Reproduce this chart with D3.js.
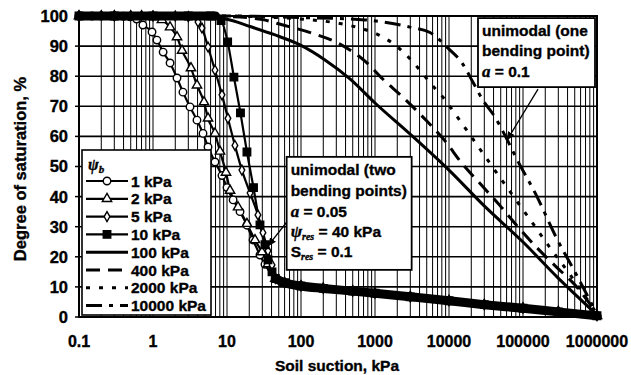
<!DOCTYPE html>
<html>
<head>
<meta charset="utf-8">
<script src="https://cdn.jsdelivr.net/npm/d3@7"></script>
<style>
  body { margin: 0; background: #fff; }
  svg { display: block; font-family: "Liberation Sans", Arial, sans-serif; font-weight: bold; }
  text { stroke: #000; stroke-width: 0.35px; }
  .serif { font-family: "Liberation Serif", "Times New Roman", serif; font-style: italic; }
</style>
</head>
<body>
<svg id="chart" width="631" height="375"></svg>
<script>
// x tick labels (soil suction, kPa) and y ticks (degree of saturation, %)
const xTickLabels = ["0.1", "1", "10", "100", "1000", "10000", "100000", "1000000"];
const yTicks = [0, 10, 20, 30, 40, 50, 60, 70, 80, 90, 100];

// bimodal curves (two bending points), [suction kPa, saturation %]
const psi1 = [[0.1,100],[0.15,100],[0.2,100],[0.3,100],[0.4,99.9],[0.49,99.7],[0.6,99],[0.73,97],[0.97,94.7],[1.13,92],[1.37,88],[1.7,84.4],[2.11,79.4],[2.54,74.7],[3.16,69.8],[3.93,65.4],[4.74,61],[5.54,56.5],[6.88,51.5],[8.55,47],[10,43],[12.1,38.9],[15,35],[18.6,30.5],[22.5,25.6],[27.9,20.6],[32.6,17.5]];
const psi2 = [[0.1,100],[0.2,100],[0.3,100],[0.5,100],[0.7,100],[1,99.8],[1.32,98.7],[1.7,96.3],[2.11,93],[2.47,88.5],[3.26,82.7],[3.93,77],[4.89,71.4],[5.54,66],[6.88,61],[8.04,55],[9.69,48],[11,42],[14.1,36.5],[18.6,31],[23.9,25.6],[29.7,21.6],[35.8,17.6]];
const psi5 = [[0.1,100],[0.3,100],[1,100],[2,100],[3,99.8],[4.06,98],[4.59,96],[5.54,89.7],[6.88,82],[8.55,73.8],[10.3,66],[12.8,57],[15.9,48.8],[20.5,41.2],[26.2,33.9],[30.6,28],[35.8,22],[40.6,17.3]];
const psi10 = [[0.1,100],[0.3,100],[1,100],[3,100],[6,100],[8.3,98.5],[10.2,91.4],[12.4,79.7],[15.2,67.8],[18.6,54.8],[22.8,43],[27.9,30.6],[32.6,24],[35.8,19],[40.6,15]];
// shared residual part of the bimodal curves
const residual = [[45,12.8],[60,11.4],[100,10.3],[200,9.5],[500,8.6],[1000,7.9],[3000,6.7],[10000,5.4],[30000,4.1],[100000,2.9],[300000,1.7],[1000000,0.4]];
const saturatedTop = [[0.1,100],[7,100]];

// unimodal curves (one bending point)
const psi100 = [[0.1,100],[1,100],[5,99.6],[10,98.9],[20.5,96.5],[44.6,93.7],[97,90.4],[211,85.4],[459,79.1],[1000,71.1],[2972,60.8],[10000,48.8],[29700,37],[100000,24.9],[297000,13],[1000000,0.7]];
const psi400 = [[0.1,100],[10,99.8],[30,98.8],[57,97],[141,94.3],[316,91],[733,85],[1282,79],[2389,73],[4454,66.4],[8830,58.5],[15000,51],[27050,44],[48900,37],[85000,30],[154500,23],[272000,17],[505000,10.6],[1000000,1]];
const psi2000 = [[0.1,100],[10,100],[30,99.7],[97,99],[336,97.5],[689,95.7],[1064,94],[2317,88.4],[3264,84.7],[4454,80.7],[6078,76.7],[8300,73],[11330,68.5],[19230,60.5],[33650,52],[57100,44],[136500,31],[231700,23],[405600,15],[1000000,1]];
const psi10000 = [[0.1,100],[10,100],[97,99.5],[733,98.7],[2972,96.3],[5537,94.5],[10000,89],[15000,84.4],[21100,78],[28800,72],[41850,66.4],[60800,59],[80400,53],[154500,40],[279000,26.6],[520000,14.3],[1000000,1]];

const legendLabels = ["1 kPa", "2 kPa", "5 kPa", "10 kPa", "100 kPa", "400 kPa", "2000 kPa", "10000 kPa"];

const series = [
    { data: psi1.concat(residual), symbol: d3.symbolCircle, size: 44, fill: "#fff" },
    { data: psi2.concat(residual), symbol: d3.symbolTriangle, size: 38, fill: "#fff" },
    { data: psi5.concat(residual), symbol: d3.symbolDiamond, size: 28, fill: "#fff" },
    { data: psi10.concat(residual), symbol: d3.symbolSquare, size: 56, fill: "#000" },
    { data: psi100, dash: null },
    { data: psi400, dash: "14,8" },
    { data: psi2000, dash: "4,9" },
    { data: psi10000, dash: "16,7,4,7" }
];

const svg = d3.select("#chart");
const x = d3.scaleLog().domain([0.1, 1e6]).range([79, 597]);
const y = d3.scaleLinear().domain([0, 100]).range([317, 16]);

svg.append("rect").attr("width", 631).attr("height", 375).attr("fill", "#fff");

// grid
const grid = svg.append("g");
grid.selectAll("line.v").data(x.ticks()).join("line").attr("class", "v")
    .attr("x1", d => x(d)).attr("x2", d => x(d))
    .attr("y1", y(0)).attr("y2", y(100))
    .attr("stroke", "#000").attr("stroke-width", 1);
grid.selectAll("line.h").data(yTicks).join("line").attr("class", "h")
    .attr("x1", x(0.1)).attr("x2", x(1e6))
    .attr("y1", d => y(d)).attr("y2", d => y(d))
    .attr("stroke", "#000").attr("stroke-width", 1.6);
grid.selectAll("line.t").data(yTicks).join("line").attr("class", "t")
    .attr("x1", x(0.1) - 4).attr("x2", x(0.1))
    .attr("y1", d => y(d)).attr("y2", d => y(d))
    .attr("stroke", "#000").attr("stroke-width", 1.5);

svg.append("rect")
    .attr("x", x(0.1)).attr("y", y(100))
    .attr("width", x(1e6) - x(0.1)).attr("height", y(0) - y(100))
    .attr("fill", "none").attr("stroke", "#000").attr("stroke-width", 2);

// tick labels
svg.append("g").selectAll("text").data(xTickLabels).join("text")
    .attr("x", d => x(+d)).attr("y", 347)
    .attr("text-anchor", "middle").attr("font-size", 16)
    .text(d => d);
svg.append("g").selectAll("text").data(yTicks).join("text")
    .attr("x", 68).attr("y", d => y(d)).attr("dy", "0.36em")
    .attr("text-anchor", "end").attr("font-size", 16.5)
    .text(d => d);

// axis titles
svg.append("text")
    .attr("x", 337).attr("y", 371)
    .attr("text-anchor", "middle").attr("font-size", 15.5)
    .text("Soil suction, kPa");
svg.append("text")
    .attr("transform", "translate(26,169) rotate(-90)")
    .attr("text-anchor", "middle").attr("font-size", 16.5)
    .text("Degree of saturation, %");

const line = d3.line()
    .x(d => x(d[0]))
    .y(d => y(d[1]))
    .curve(d3.curveMonotoneX);

// curves
const curves = svg.append("g");
series.forEach(s => {
    curves.append("path")
        .attr("d", line(s.data))
        .attr("fill", "none")
        .attr("stroke", "#000")
        .attr("stroke-width", s.symbol ? 2.2 : 3)
        .attr("stroke-dasharray", s.dash || null);
});
series.filter(s => s.symbol).forEach(s => {
    curves.append("g").selectAll("path").data(s.data).join("path")
        .attr("transform", d => `translate(${x(d[0])},${y(d[1])})`)
        .attr("d", d3.symbol().type(s.symbol).size(s.size))
        .attr("fill", s.fill).attr("stroke", "#000").attr("stroke-width", 1.4);
});

// overlapping markers form thick bands on the flat parts
[residual, saturatedTop].forEach(b => {
    curves.append("path")
        .attr("d", line(b))
        .attr("fill", "none").attr("stroke", "#000")
        .attr("stroke-width", 9).attr("stroke-linecap", "round");
});

// legend
const lg = svg.append("g");
lg.append("rect")
    .attr("x", 82).attr("y", 150).attr("width", 129).attr("height", 165)
    .attr("fill", "#fff").attr("stroke", "#000").attr("stroke-width", 1.6);
const head = lg.append("text").attr("x", 88).attr("y", 170).attr("font-size", 16);
head.append("tspan").attr("class", "serif").text("ψ");
head.append("tspan").attr("class", "serif").attr("font-size", 11).attr("dy", 3).text("b");

const entries = lg.selectAll("g.entry").data(legendLabels).join("g")
    .attr("class", "entry")
    .attr("transform", (d, i) => `translate(0,${181 + i * 17.8})`);
entries.append("line")
    .attr("x1", 86).attr("x2", 128).attr("y1", 0).attr("y2", 0)
    .attr("stroke", "#000")
    .attr("stroke-width", (d, i) => series[i].symbol ? 2.2 : 3)
    .attr("stroke-dasharray", (d, i) => series[i].dash || null);
entries.filter((d, i) => series[i].symbol).append("path")
    .attr("transform", "translate(107,0)")
    .attr("d", (d, i) => d3.symbol().type(series[i].symbol).size(series[i].size)())
    .attr("fill", (d, i) => series[i].fill)
    .attr("stroke", "#000").attr("stroke-width", 1.4);
entries.append("text")
    .attr("x", 131).attr("y", 5.5).attr("font-size", 15.5)
    .text(d => d);

// arrowhead
svg.append("defs").append("marker")
    .attr("id", "arrow").attr("viewBox", "0 0 10 10")
    .attr("refX", 9).attr("refY", 5)
    .attr("markerWidth", 7).attr("markerHeight", 7)
    .attr("orient", "auto")
    .append("path").attr("d", "M0,1L10,5L0,9Z").attr("fill", "#000");

// annotation: bimodal
const box1 = { x: x(64), y: y(53.2) };
svg.append("line")
    .attr("x1", x(66)).attr("y1", y(31.9))
    .attr("x2", x(35.8)).attr("y2", y(23.6))
    .attr("stroke", "#000").attr("stroke-width", 1.3)
    .attr("marker-end", "url(#arrow)");
svg.append("rect")
    .attr("x", box1.x).attr("y", box1.y).attr("width", 125).attr("height", 113)
    .attr("fill", "#fff").attr("stroke", "#000").attr("stroke-width", 1.8);
const t1 = svg.append("g").attr("font-size", 15.5);
t1.append("text").attr("x", box1.x + 4).attr("y", box1.y + 18).text("unimodal (two");
t1.append("text").attr("x", box1.x + 4).attr("y", box1.y + 39).text("bending points)");
const a1 = t1.append("text").attr("x", box1.x + 4).attr("y", box1.y + 60);
a1.append("tspan").attr("class", "serif").attr("font-size", 17).text("a");
a1.append("tspan").text(" = 0.05");
const r1 = t1.append("text").attr("x", box1.x + 4).attr("y", box1.y + 80);
r1.append("tspan").attr("class", "serif").attr("font-size", 17).text("ψ");
r1.append("tspan").attr("class", "serif").attr("font-size", 10).attr("dy", 3).text("res");
r1.append("tspan").attr("dy", -3).text(" = 40 kPa");
const s1 = t1.append("text").attr("x", box1.x + 4).attr("y", box1.y + 100);
s1.append("tspan").text("S");
s1.append("tspan").attr("class", "serif").attr("font-size", 10).attr("dy", 3).text("res");
s1.append("tspan").attr("dy", -3).text(" = 0.1");

// annotation: unimodal
const box2 = { x: x(24650), y: y(99.3) };
svg.append("line")
    .attr("x1", x(159600)).attr("y1", y(75.7))
    .attr("x2", x(60800)).attr("y2", y(58.8))
    .attr("stroke", "#000").attr("stroke-width", 1.3)
    .attr("marker-end", "url(#arrow)");
svg.append("rect")
    .attr("x", box2.x).attr("y", box2.y).attr("width", 117).attr("height", 69)
    .attr("fill", "#fff").attr("stroke", "#000").attr("stroke-width", 1.8);
const t2 = svg.append("g").attr("font-size", 15.5);
t2.append("text").attr("x", box2.x + 4).attr("y", box2.y + 18).text("unimodal (one");
t2.append("text").attr("x", box2.x + 4).attr("y", box2.y + 38).text("bending point)");
const a2 = t2.append("text").attr("x", box2.x + 4).attr("y", box2.y + 59);
a2.append("tspan").attr("class", "serif").attr("font-size", 17).text("a");
a2.append("tspan").text(" = 0.1");
</script>
</body>
</html>
